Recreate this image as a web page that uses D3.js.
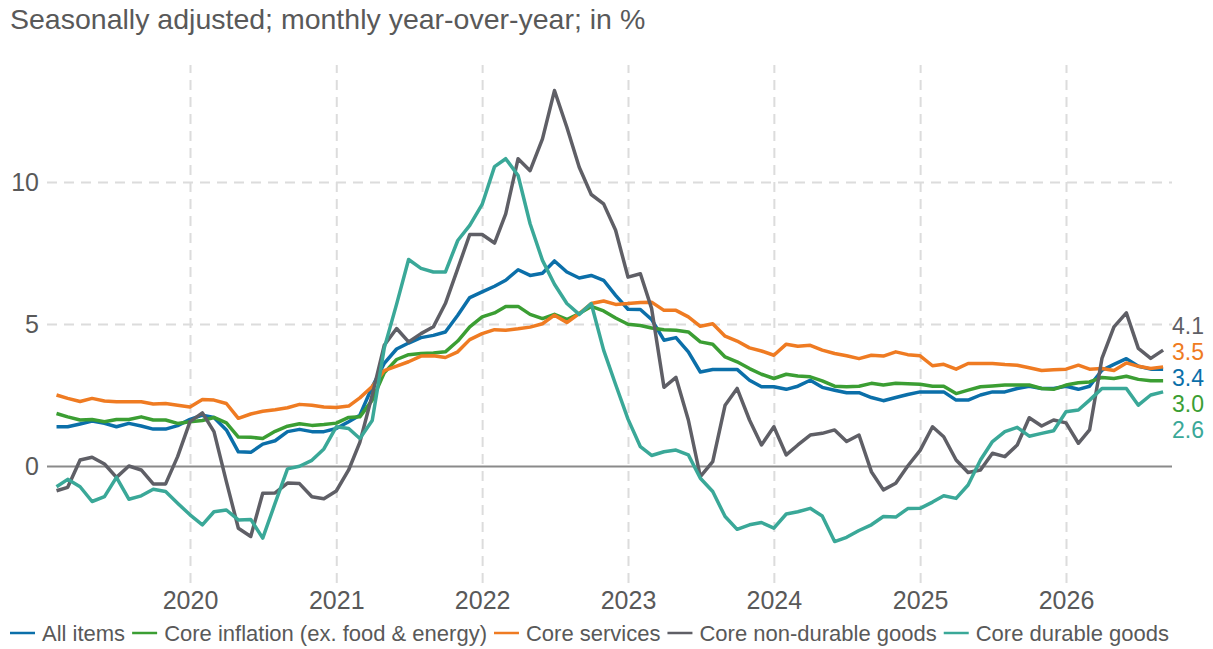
<!DOCTYPE html>
<html>
<head>
<meta charset="utf-8">
<script src="https://cdn.jsdelivr.net/npm/d3@7"></script>
<style>
  html, body { margin: 0; padding: 0; background: #fff; }
  svg { display: block; font-family: "Liberation Sans", Arial, sans-serif; }
</style>
</head>
<body>
<svg id="chart" width="1213" height="649"></svg>
<script>
// ---------- DATA ----------
const titleText = "Seasonally adjusted; monthly year-over-year; in %";
const firstMonth = "2019-02";   // monthly observations, Feb 2019 .. Sep 2026
const yearTicks = [2020, 2021, 2022, 2023, 2024, 2025, 2026];
const yTicks = [0, 5, 10];

const seriesNames = ["All items", "Core inflation (ex. food & energy)", "Core services", "Core non-durable goods", "Core durable goods"];
const seriesColors = ["#0b6fa9", "#3b9e33", "#ef7b22", "#5f5f66", "#3aa898"];

const allItems = [1.38,1.38,1.48,1.58,1.50,1.38,1.50,1.41,1.30,1.30,1.42,1.64,1.79,1.71,1.27,0.50,0.48,0.77,0.89,1.21,1.29,1.21,1.21,1.32,1.56,1.79,2.79,3.61,4.12,4.33,4.52,4.60,4.72,5.31,5.93,6.13,6.33,6.54,6.91,6.71,6.79,7.22,6.83,6.62,6.71,6.54,6.01,5.52,5.51,5.16,4.43,4.52,4.02,3.31,3.40,3.40,3.40,3.02,2.79,2.79,2.70,2.81,3.02,2.77,2.67,2.58,2.58,2.41,2.30,2.41,2.52,2.61,2.61,2.61,2.32,2.32,2.50,2.61,2.61,2.73,2.81,2.73,2.73,2.81,2.70,2.81,3.37,3.58,3.78,3.51,3.41,3.41];
const coreInflation = [1.85,1.73,1.62,1.64,1.56,1.64,1.64,1.73,1.62,1.62,1.50,1.56,1.60,1.71,1.52,1.02,1.01,0.97,1.22,1.40,1.49,1.43,1.46,1.51,1.71,1.73,2.32,3.28,3.75,3.92,3.96,3.98,4.02,4.40,4.90,5.25,5.39,5.62,5.62,5.34,5.19,5.34,5.16,5.37,5.62,5.46,5.21,4.99,4.95,4.86,4.80,4.78,4.72,4.37,4.29,3.84,3.67,3.43,3.23,3.08,3.23,3.17,3.14,3.00,2.81,2.79,2.81,2.91,2.85,2.91,2.90,2.88,2.81,2.81,2.55,2.67,2.79,2.82,2.85,2.85,2.85,2.73,2.70,2.85,2.93,2.96,3.12,3.08,3.16,3.05,3.00,3.00];
const coreServices = [2.50,2.38,2.27,2.38,2.29,2.26,2.26,2.26,2.18,2.20,2.14,2.08,2.34,2.32,2.20,1.68,1.83,1.93,1.98,2.05,2.17,2.14,2.08,2.06,2.11,2.40,2.80,3.36,3.52,3.67,3.87,3.88,3.82,4.02,4.45,4.66,4.80,4.78,4.83,4.89,5.01,5.31,5.05,5.37,5.72,5.81,5.69,5.72,5.76,5.77,5.48,5.48,5.25,4.92,5.01,4.57,4.40,4.16,4.05,3.90,4.29,4.22,4.25,4.08,3.96,3.88,3.78,3.90,3.87,4.02,3.92,3.88,3.53,3.58,3.41,3.61,3.61,3.61,3.57,3.55,3.46,3.36,3.39,3.41,3.55,3.41,3.43,3.36,3.63,3.51,3.43,3.49];
const coreNonDurable = [-0.87,-0.75,0.21,0.31,0.07,-0.40,0.00,-0.14,-0.63,-0.63,0.33,1.56,1.87,1.21,-0.55,-2.19,-2.48,-0.96,-0.95,-0.60,-0.62,-1.08,-1.15,-0.88,-0.14,0.83,2.50,4.25,4.84,4.37,4.66,4.90,5.72,6.95,8.15,8.15,7.85,8.88,10.82,10.40,11.52,13.22,11.93,10.52,9.56,9.23,8.30,6.65,6.77,5.55,2.77,3.12,1.62,-0.37,0.15,2.14,2.73,1.62,0.74,1.38,0.39,0.74,1.09,1.15,1.27,0.86,1.09,-0.20,-0.84,-0.61,0.00,0.55,1.38,1.03,0.21,-0.23,-0.14,0.45,0.33,0.74,1.70,1.41,1.62,1.52,0.80,1.27,3.79,4.90,5.39,4.14,3.79,4.08];
const coreDurable = [-0.73,-0.47,-0.73,-1.25,-1.08,-0.40,-1.17,-1.05,-0.82,-0.90,-1.31,-1.72,-2.07,-1.61,-1.55,-1.90,-1.88,-2.54,-1.31,-0.10,-0.01,0.20,0.60,1.38,1.32,0.97,1.60,4.15,5.70,7.27,6.96,6.83,6.83,7.94,8.47,9.21,10.54,10.82,10.23,8.53,7.24,6.40,5.72,5.34,5.72,4.08,2.87,1.65,0.68,0.37,0.50,0.56,0.39,-0.43,-0.90,-1.78,-2.23,-2.07,-1.99,-2.19,-1.69,-1.61,-1.49,-1.76,-2.66,-2.51,-2.27,-2.07,-1.78,-1.80,-1.50,-1.49,-1.27,-1.05,-1.14,-0.67,0.21,0.86,1.21,1.36,1.05,1.15,1.24,1.91,1.97,2.32,2.73,2.73,2.73,2.14,2.50,2.61];

const seriesValues = [allItems, coreInflation, coreServices, coreNonDurable, coreDurable];

// ---------- BUILD ----------
const svg = d3.select("#chart");
const start = d3.timeParse("%Y-%m")(firstMonth);
const dates = d3.range(allItems.length).map(i => d3.timeMonth.offset(start, i));

const x = d3.scaleTime()
  .domain([new Date(2020, 0, 1), new Date(2026, 0, 1)])
  .range([190, 1066]);
const y = d3.scaleLinear().domain([0, 10]).range([466, 182]);

const gridColor = "#dcdcdc";
const textColor = "#595959";

// title
svg.append("text")
  .attr("x", 10).attr("y", 29)
  .attr("font-size", 28.5).attr("fill", textColor)
  .text(titleText);

// vertical gridlines + year labels
const xAxis = d3.axisBottom(x)
  .tickValues(yearTicks.map(yr => new Date(yr, 0, 1)))
  .tickFormat(d3.timeFormat("%Y"))
  .tickSize(-518).tickPadding(8);
const gx = svg.append("g").attr("transform", "translate(0,583)").call(xAxis);
gx.select(".domain").remove();
gx.selectAll(".tick line")
  .attr("stroke", gridColor).attr("stroke-width", 2).attr("stroke-dasharray", "10,7");
gx.selectAll(".tick text")
  .attr("font-size", 25).attr("fill", textColor).attr("font-family", "Liberation Sans, Arial, sans-serif");

// horizontal gridlines + y labels
const yAxis = d3.axisLeft(y).tickValues(yTicks).tickFormat(d3.format("d"))
  .tickSize(-1125).tickPadding(8);
const gy = svg.append("g").attr("transform", "translate(47,0)").call(yAxis);
gy.select(".domain").remove();
gy.selectAll(".tick line")
  .attr("stroke", d => d === 0 ? "#8a8a8a" : gridColor)
  .attr("stroke-width", 2)
  .attr("stroke-dasharray", d => d === 0 ? null : "10,7");
gy.selectAll(".tick text")
  .attr("font-size", 25).attr("fill", textColor).attr("font-family", "Liberation Sans, Arial, sans-serif");

// lines
const line = d3.line()
  .x((d, i) => x(dates[i]))
  .y(d => y(d));

seriesValues.forEach((vals, k) => {
  svg.append("path")
    .datum(vals)
    .attr("fill", "none")
    .attr("stroke", seriesColors[k])
    .attr("stroke-width", 3.5)
    .attr("stroke-linejoin", "round")
    .attr("d", line);
});

// end labels with simple collision avoidance
const lastIdx = allItems.length - 1;
const labels = seriesValues.map((vals, k) => ({
  k, v: vals[lastIdx], y: y(vals[lastIdx])
})).sort((a, b) => a.y - b.y);
const gap = 26;
for (let iter = 0; iter < 200; iter++) {
  for (let j = 1; j < labels.length; j++) {
    const d = labels[j].y - labels[j - 1].y;
    if (d < gap) {
      const push = (gap - d) / 2;
      labels[j].y += push;
      labels[j - 1].y -= push;
    }
  }
}
svg.append("g").selectAll("text").data(labels).join("text")
  .attr("x", 1172)
  .attr("y", d => d.y + 6)
  .attr("dy", "0.35em")
  .attr("font-size", 23)
  .attr("fill", d => seriesColors[d.k])
  .text(d => d3.format(".1f")(d.v));

// legend
const legend = svg.append("g").attr("transform", "translate(10,633)");
let lx = 0;
seriesNames.forEach((name, k) => {
  legend.append("line")
    .attr("x1", lx).attr("x2", lx + 25)
    .attr("y1", 0).attr("y2", 0)
    .attr("stroke", seriesColors[k]).attr("stroke-width", 2.5);
  const t = legend.append("text")
    .attr("x", lx + 32).attr("y", 0).attr("dy", "0.35em")
    .attr("font-size", 22).attr("fill", textColor)
    .text(name);
  lx += 32 + t.node().getComputedTextLength() + 7;
});
</script>
</body>
</html>
